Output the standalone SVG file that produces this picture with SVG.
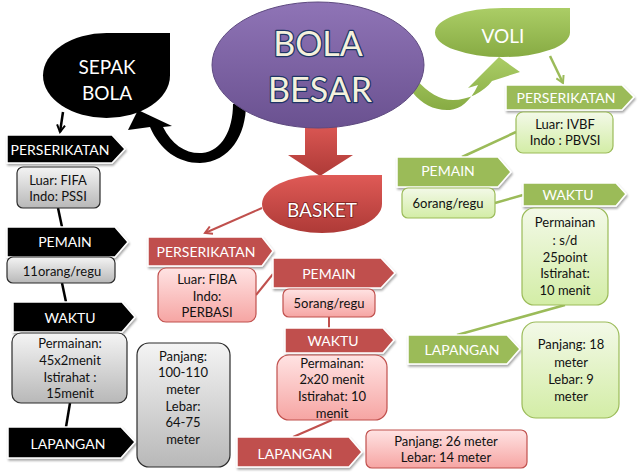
<svg xmlns="http://www.w3.org/2000/svg" width="640" height="474" viewBox="0 0 640 474">
<defs>
<style>
text{font-family:Lato,"Open Sans","Liberation Sans",sans-serif;text-anchor:middle}
.pb{fill:#000;stroke:#fff;stroke-width:1.5;filter:url(#sh)}
.pr{fill:#C0504D;stroke:#fff;stroke-width:1.5;filter:url(#sh)}
.pg{fill:#9BBB59;stroke:#fff;stroke-width:1.5;filter:url(#sh)}
.bg{fill:url(#gGray);stroke:#2b2b2b;stroke-width:1.2}
.br{fill:url(#gPink);stroke:#C0504D;stroke-width:1.2}
.bv{fill:url(#gGreen);stroke:#9BBB59;stroke-width:1.2}
.lt{font-size:14px;fill:#fff}
.bt{font-size:13px;fill:#111}
.cb{stroke:#000;stroke-width:2.5;fill:none}
.cr{stroke:#C0504D;stroke-width:2;fill:none}
.cg{stroke:#9BBB59;stroke-width:2.5;fill:none}
</style>
<filter id="sh" x="-10%" y="-20%" width="130%" height="150%"><feDropShadow dx="1" dy="2" stdDeviation="1.2" flood-opacity="0.35"/></filter>
<linearGradient id="gGray" x1="0" y1="0" x2="0" y2="1"><stop offset="0" stop-color="#F4F4F4"/><stop offset="1" stop-color="#B8B8B8"/></linearGradient>
<linearGradient id="gPink" x1="0" y1="0" x2="0" y2="1"><stop offset="0" stop-color="#FFE3E3"/><stop offset="1" stop-color="#F6A5A3"/></linearGradient>
<linearGradient id="gGreen" x1="0" y1="0" x2="0" y2="1"><stop offset="0" stop-color="#F3F9E8"/><stop offset="1" stop-color="#D3EDA6"/></linearGradient>
<linearGradient id="gPurple" x1="0" y1="0" x2="0" y2="1"><stop offset="0" stop-color="#8F74B6"/><stop offset="1" stop-color="#6A5190"/></linearGradient>
<linearGradient id="gRed" x1="0" y1="0" x2="0" y2="1"><stop offset="0" stop-color="#DF5A56"/><stop offset="1" stop-color="#AE3A37"/></linearGradient>
<linearGradient id="gLime" x1="0" y1="0" x2="0" y2="1"><stop offset="0" stop-color="#ABCD66"/><stop offset="1" stop-color="#87AB43"/></linearGradient>
<marker id="mb" markerWidth="10" markerHeight="10" refX="8" refY="5" orient="auto" markerUnits="userSpaceOnUse"><path d="M1,1 L8,5 L1,9" fill="none" stroke="#000" stroke-width="2"/></marker>
<marker id="mr" markerWidth="10" markerHeight="10" refX="8" refY="5" orient="auto" markerUnits="userSpaceOnUse"><path d="M1,1 L8,5 L1,9" fill="none" stroke="#C0504D" stroke-width="2"/></marker>
<marker id="mg" markerWidth="10" markerHeight="10" refX="8" refY="5" orient="auto" markerUnits="userSpaceOnUse"><path d="M1,1 L8,5 L1,9" fill="none" stroke="#9BBB59" stroke-width="2"/></marker>
</defs>
<rect width="640" height="474" fill="#fff"/>

<g id="connectors">
<path d="M233,104 L246,104 C246,135 230,162 200,163 C178,163 160,150 150,127 L128,130 L138,110 L172,126 L163,127 C172,145 186,154 202,153 C222,151 233,130 233,104 Z" fill="#000"/>
<path d="M416,79 C428,93 440,100 453,100 C468,100 484,92 492,81 L520,72 L499,57 L468,88 L478,85 C470,102 460,109 450,110 C435,111 422,104 413,93 Z" fill="url(#gLime)"/>
<polygon points="305,120 337,120 337,155 353,155 320,176 288,155 305,155" fill="url(#gRed)"/>
<line class="cb" x1="63" y1="112" x2="60" y2="132" marker-end="url(#mb)"/>
<line class="cb" x1="58" y1="208" x2="62" y2="227"/>
<line class="cb" x1="62" y1="283" x2="66" y2="302"/>
<line class="cb" x1="70" y1="403" x2="66" y2="427"/>
<line class="cr" x1="262" y1="208" x2="205" y2="233" marker-end="url(#mr)"/>
<line class="cr" x1="256" y1="295" x2="273" y2="274"/>
<line class="cr" x1="329" y1="317" x2="329" y2="328"/>
<line class="cr" x1="332" y1="420" x2="293" y2="437"/>
<line class="cg" x1="550" y1="56" x2="563" y2="83" marker-end="url(#mg)"/>
<line class="cg" x1="516" y1="132" x2="462" y2="157"/>
<line class="cg" x1="495" y1="203" x2="523" y2="195"/>
<line class="cg" x1="565" y1="305" x2="457" y2="335"/>
</g>

<g id="bola-besar">
<ellipse cx="318" cy="65" rx="106" ry="63" fill="url(#gPurple)" stroke="#5E4A80" stroke-width="1"/>
<text x="318" y="56" font-size="34" fill="#F4F1DC" stroke="#1E3566" stroke-width="2.5" paint-order="stroke" stroke-linejoin="round">BOLA</text>
<text x="320" y="102" font-size="34" fill="#F4F1DC" stroke="#1E3566" stroke-width="2.5" paint-order="stroke" stroke-linejoin="round">BESAR</text>
</g>

<g id="sepak-bola">
<path d="M106.5,33 L170,33 L170,75.5 A63.5,42.5 0 1 1 106.5,33 Z" fill="#000"/>
<text x="107" y="74" font-size="19" fill="#fff">SEPAK</text>
<text x="107" y="100" font-size="19" fill="#fff">BOLA</text>
</g>

<g id="basket">
<path d="M322,175 L382,175 L382,204 A60,29 0 1 1 322,175 Z" fill="url(#gRed)"/>
<text x="322" y="217" font-size="19" fill="#fff" stroke="#7A1E1C" stroke-width="1.5" paint-order="stroke">BASKET</text>
</g>

<g id="voli">
<path d="M502.5,8 L570,8 L570,32.5 A67.5,24.5 0 1 1 502.5,8 Z" fill="url(#gLime)"/>
<text x="503" y="43" font-size="19" fill="#fff">VOLI</text>
</g>

<g id="sb-perserikatan"><polygon class="pb" points="7,135 112,135 125,149 112,163 7,163"/><text class="lt" x="60" y="155">PERSERIKATAN</text></g>
<g id="sb-perserikatan-isi"><rect class="bg" x="17" y="167" width="83" height="41" rx="6"/><text class="bt" x="58" y="185">Luar: FIFA</text><text class="bt" x="58" y="201">Indo: PSSI</text></g>
<g id="sb-pemain"><polygon class="pb" points="7,227 115,227 128,242 115,257 7,257"/><text class="lt" x="65" y="247">PEMAIN</text></g>
<g id="sb-pemain-isi"><rect class="bg" x="7" y="257" width="108" height="26" rx="6"/><text class="bt" x="62" y="276">11orang/regu</text></g>
<g id="sb-waktu"><polygon class="pb" points="13,302 122,302 135,317 122,332 13,332"/><text class="lt" x="70" y="323">WAKTU</text></g>
<g id="sb-waktu-isi"><rect class="bg" x="12" y="333" width="115" height="70" rx="9"/><text class="bt" x="70" y="348">Permainan:</text><text class="bt" x="70" y="365">45x2menit</text><text class="bt" x="70" y="382">Istirahat :</text><text class="bt" x="70" y="398">15menit</text></g>
<g id="sb-lapangan"><polygon class="pb" points="8,427 121,427 135,442 121,458 8,458"/><text class="lt" x="68" y="449">LAPANGAN</text></g>
<g id="sb-lapangan-isi"><rect class="bg" x="137" y="343" width="93" height="124" rx="12"/><text class="bt" x="183" y="361">Panjang:</text><text class="bt" x="183" y="377">100-110</text><text class="bt" x="183" y="394">meter</text><text class="bt" x="183" y="411">Lebar:</text><text class="bt" x="183" y="427">64-75</text><text class="bt" x="183" y="444">meter</text></g>

<g id="bk-perserikatan"><polygon class="pr" points="148,237 262,237 273,251 262,266 148,266"/><text class="lt" x="206" y="257">PERSERIKATAN</text></g>
<g id="bk-perserikatan-isi"><rect class="br" x="158" y="268" width="98" height="54" rx="8"/><text class="bt" x="207" y="284">Luar: FIBA</text><text class="bt" x="207" y="301">Indo:</text><text class="bt" x="207" y="317">PERBASI</text></g>
<g id="bk-pemain"><polygon class="pr" points="273,258 381,258 395,273 381,288 273,288"/><text class="lt" x="329" y="279">PEMAIN</text></g>
<g id="bk-pemain-isi"><rect class="br" x="283" y="289" width="92" height="28" rx="6"/><text class="bt" x="329" y="308">5orang/regu</text></g>
<g id="bk-waktu"><polygon class="pr" points="285,328 383,328 394,340 383,353 285,353"/><text class="lt" x="333" y="346">WAKTU</text></g>
<g id="bk-waktu-isi"><rect class="br" x="277" y="355" width="110" height="65" rx="12"/><text class="bt" x="332" y="368">Permainan:</text><text class="bt" x="332" y="384">2x20 menit</text><text class="bt" x="332" y="401">Istirahat: 10</text><text class="bt" x="332" y="418">menit</text></g>
<g id="bk-lapangan"><polygon class="pr" points="237,437 349,437 362,452 349,467 237,467"/><text class="lt" x="295" y="459">LAPANGAN</text></g>
<g id="bk-lapangan-isi"><rect class="br" x="366" y="430" width="161" height="38" rx="6"/><text class="bt" x="446" y="446">Panjang: 26 meter</text><text class="bt" x="446" y="462">Lebar: 14 meter</text></g>

<g id="vl-perserikatan"><polygon class="pg" points="506,85 622,85 634,97 622,110 506,110"/><text class="lt" x="566" y="103">PERSERIKATAN</text></g>
<g id="vl-perserikatan-isi"><rect class="bv" x="516" y="112" width="97" height="41" rx="7"/><text class="bt" x="565" y="129">Luar: IVBF</text><text class="bt" x="565" y="145">Indo : PBVSI</text></g>
<g id="vl-pemain"><polygon class="pg" points="397,157 498,157 511,172 498,187 397,187"/><text class="lt" x="448" y="176">PEMAIN</text></g>
<g id="vl-pemain-isi"><rect class="bv" x="402" y="188" width="93" height="30" rx="6"/><text class="bt" x="448" y="208">6orang/regu</text></g>
<g id="vl-waktu"><polygon class="pg" points="523,183 616,183 626,194 616,206 523,206"/><text class="lt" x="568" y="200">WAKTU</text></g>
<g id="vl-waktu-isi"><rect class="bv" x="522" y="208" width="86" height="97" rx="12"/><text class="bt" x="565" y="227">Permainan</text><text class="bt" x="565" y="245">: s/d</text><text class="bt" x="565" y="262">25point</text><text class="bt" x="565" y="278">Istirahat:</text><text class="bt" x="565" y="295">10 menit</text></g>
<g id="vl-lapangan"><polygon class="pg" points="408,335 507,335 520,349 507,364 408,364"/><text class="lt" x="462" y="355">LAPANGAN</text></g>
<g id="vl-lapangan-isi"><rect class="bv" x="522" y="322" width="97" height="96" rx="14"/><text class="bt" x="571" y="349">Panjang: 18</text><text class="bt" x="571" y="367">meter</text><text class="bt" x="571" y="384">Lebar: 9</text><text class="bt" x="571" y="401">meter</text></g>
</svg>
